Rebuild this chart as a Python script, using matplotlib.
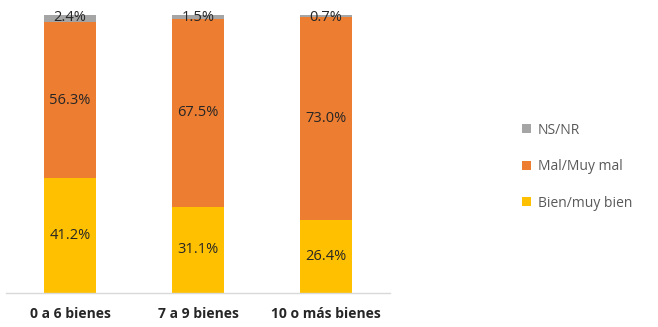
import matplotlib
matplotlib.use("Agg")
import matplotlib.pyplot as plt
import numpy as np

categories = ["0 a 6 bienes", "7 a 9 bienes", "10 o más bienes"]
bien = [41.2, 31.1, 26.4]
mal = [56.3, 67.5, 73.0]
nsnr = [2.4, 1.5, 0.7]
series_names = ["Bien/muy bien", "Mal/Muy mal", "NS/NR"]
colors = ["#FFC000", "#ED7D31", "#A5A5A5"]

plt.rcParams['font.family'] = ['Open Sans', 'DejaVu Sans']

fig = plt.figure(figsize=(6.58, 3.27), dpi=100)
ax = fig.add_axes([0.009, 0.104, 0.584, 0.85])

x = np.arange(len(categories))
w = 0.405
bottom = np.zeros(len(categories))
handles = []
for vals, name, c in zip([bien, mal, nsnr], series_names, colors):
    b = ax.bar(x, vals, w, bottom=bottom, color=c, label=name)
    handles.append(b)
    for xi, v, bt in zip(x, vals, bottom):
        if v < 5:
            ax.text(xi, 99.2, f"{v:.1f}%", ha="center", va="center", fontsize=10.5,
                    color="#262626", fontweight="medium")
        else:
            ax.text(xi, bt + v / 2, f"{v:.1f}%", ha="center", va="center", fontsize=10.5,
                    color="#262626", fontweight="medium")
    bottom = bottom + np.array(vals)

ax.set_xlim(-0.5, 2.5)
ax.set_ylim(0, 100)
ax.set_xticks(x)
ax.set_xticklabels(categories, fontsize=10, fontweight="bold", color="#262626")
ax.tick_params(axis="x", length=0, pad=10)
ax.set_yticks([])
for s in ["top", "left", "right"]:
    ax.spines[s].set_visible(False)
ax.spines["bottom"].set_color("#D9D9D9")
ax.spines["bottom"].set_linewidth(1)

leg = fig.legend(handles[::-1], series_names[::-1], loc="center left",
                 bbox_to_anchor=(0.775, 0.49), frameon=False, fontsize=10,
                 handlelength=0.6, handleheight=0.6, handletextpad=0.5,
                 labelspacing=1.55, labelcolor="#595959")

fig.savefig("out.png", dpi=100)
